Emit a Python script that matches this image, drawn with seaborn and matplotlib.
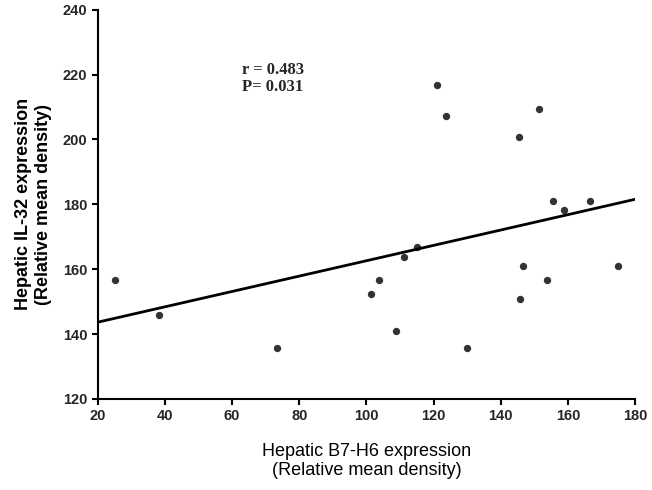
import matplotlib
matplotlib.use("Agg")
import matplotlib.pyplot as plt
import seaborn as sns
import pandas as pd

sns.set_theme(style="white")

# Data
b7h6 = [25.2, 38.3, 73.3, 101.5, 103.7, 108.8, 111.1, 115.1, 120.9, 123.7,
        129.9, 145.5, 145.8, 146.6, 151.3, 153.8, 155.6, 158.8, 166.5, 175.0]
il32 = [156.7, 145.9, 135.7, 152.3, 156.7, 140.9, 163.7, 166.9, 216.7, 207.3,
        135.7, 200.9, 150.9, 161.1, 209.3, 156.7, 181.0, 178.2, 181.0, 161.1]
x_ticks = [20, 40, 60, 80, 100, 120, 140, 160, 180]
y_ticks = [120, 140, 160, 180, 200, 220, 240]

df = pd.DataFrame({"x": b7h6, "y": il32})

fig = plt.figure(figsize=(6.52, 4.9), dpi=100)
ax = fig.add_axes([0.150, 0.186, 0.824, 0.794])
ax.set_xlim(20, 180)
ax.set_ylim(120, 240)

sns.regplot(data=df, x="x", y="y", ax=ax, ci=None, truncate=False,
            scatter_kws={"s": 28, "color": "black", "linewidths": 0},
            line_kws={"color": "black", "linewidth": 2})

ax.set_xticks(x_ticks)
ax.set_yticks(y_ticks)
for lab in ax.get_xticklabels() + ax.get_yticklabels():
    lab.set_fontfamily("Liberation Sans")
    lab.set_fontweight("bold")
    lab.set_fontsize(10.5)
ax.tick_params(direction="out", length=4, width=1.5, color="black", bottom=True, left=True)

for s in ["top", "right"]:
    ax.spines[s].set_visible(False)
for s in ["left", "bottom"]:
    ax.spines[s].set_color("black")
    ax.spines[s].set_linewidth(1.5)

ax.set_xlabel("Hepatic B7-H6 expression\n(Relative mean density)", fontsize=13,
              fontfamily="Liberation Sans", color="black", labelpad=14)
ax.set_ylabel("Hepatic IL-32 expression\n(Relative mean density)", fontsize=13,
              fontfamily="Liberation Sans", fontweight="bold", color="black", labelpad=8)

ax.text(63, 224, "r = 0.483\nP= 0.031", fontsize=12, fontfamily="Liberation Serif",
        fontweight="bold", va="top", ha="left", linespacing=1.1)

fig.savefig("out.png", dpi=100)
